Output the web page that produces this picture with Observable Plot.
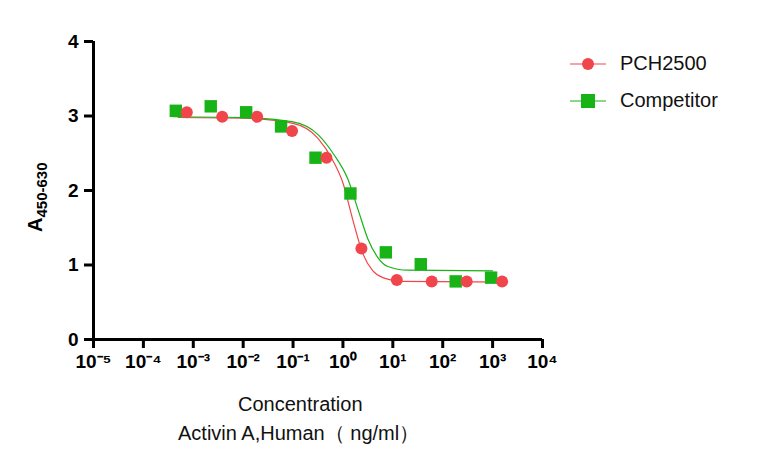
<!DOCTYPE html>
<html><head><meta charset="utf-8">
<script src="https://cdn.jsdelivr.net/npm/d3@7"></script>
<script src="https://cdn.jsdelivr.net/npm/@observablehq/plot@0.6"></script>
<style>body{margin:0;background:#fff;font-family:Arial,"Liberation Sans",sans-serif}#c{position:relative;width:765px;height:469px}
.lg{position:absolute;font-size:20px;color:#111}</style>
</head><body><div id="c"></div>
<script>
const redLogX=[-3.13,-2.42,-1.72,-1.02,-0.33,0.37,1.08,1.78,2.48,3.19];
const redY=[3.05,2.99,2.99,2.80,2.44,1.22,0.80,0.78,0.78,0.78];
const greenLogX=[-3.35,-2.65,-1.94,-1.24,-0.55,0.15,0.86,1.56,2.26,2.97];
const greenY=[3.07,3.13,3.05,2.86,2.44,1.96,1.17,1.01,0.78,0.83];
const redCurveX=[-3.3,-2,-1,-0.5,-0.2,0,0.2,0.4,0.6,0.8,1.2,3.3];
const redCurveY=[2.98,2.97,2.9,2.7,2.4,2.1,1.6,1.15,0.92,0.83,0.78,0.77];
const greenCurveX=[-3.4,-2,-1,-0.5,-0.2,0.1,0.3,0.5,0.7,0.9,1.3,3.0];
const greenCurveY=[2.99,2.98,2.92,2.75,2.5,2.15,1.75,1.35,1.1,0.98,0.93,0.92];
const xTicks=[-5,-4,-3,-2,-1,0,1,2,3,4];
const xTickLabels=["10⁻⁵","10⁻⁴","10⁻³","10⁻²","10⁻¹","10⁰","10¹","10²","10³","10⁴"];
const yTicks=[0,1,2,3,4];
const RED="#f0464b",GREEN="#17b317";
const z=(a,b)=>a.map((v,i)=>({x:v,y:b[i]}));
const p=Plot.plot({width:765,height:469,marginLeft:93,marginRight:223,marginTop:41,marginBottom:130,
 style:{fontFamily:"Arial, Liberation Sans, sans-serif",color:"#000"},
 x:{type:"linear",domain:[-5,4]},y:{type:"linear",domain:[0,4]},
 marks:[
  Plot.axisX({ticks:xTicks,tickFormat:d=>xTickLabels[xTicks.indexOf(d)],tickSize:9,strokeWidth:3,fontSize:19,fontWeight:"bold",label:null,tickPadding:6}),
  Plot.axisY({ticks:yTicks,tickFormat:d=>String(d),tickSize:9,strokeWidth:3,fontSize:19,fontWeight:"bold",label:null,tickPadding:6}),
  Plot.line(z(redCurveX,redCurveY),{x:"x",y:"y",stroke:RED,strokeWidth:1.2,curve:"monotone-x"}),
  Plot.line(z(greenCurveX,greenCurveY),{x:"x",y:"y",stroke:GREEN,strokeWidth:1.2,curve:"monotone-x"}),
  Plot.dot(z(greenLogX,greenY),{x:"x",y:"y",symbol:"square",r:7,fill:GREEN}),
  Plot.dot(z(redLogX,redY),{x:"x",y:"y",r:6,fill:RED}),
  Plot.ruleY([0],{stroke:"#000",strokeWidth:3}),
  Plot.ruleX([-5],{stroke:"#000",strokeWidth:3})
 ]});
const c=document.getElementById("c");c.appendChild(p);
c.insertAdjacentHTML("beforeend",`
<div class="lg" style="left:238px;top:393px">Concentration</div>
<div class="lg" style="left:178px;top:420px">Activin A,Human（ ng/ml）</div>
<div style="position:absolute;left:24px;top:232px;transform:rotate(-90deg);transform-origin:left top;font-size:20px;font-weight:bold;white-space:nowrap">A<sub style="font-size:15px">450-630</sub></div>
<svg style="position:absolute;left:568px;top:52px" width="40" height="60"><line x1="2" x2="38" y1="12" y2="12" stroke="${RED}" stroke-width="1.2"/><circle cx="20" cy="12" r="6" fill="${RED}"/>
<line x1="2" x2="38" y1="49" y2="49" stroke="${GREEN}" stroke-width="1.2"/><rect x="13" y="42" width="14" height="14" fill="${GREEN}"/></svg>
<div class="lg" style="left:620px;top:52px">PCH2500</div>
<div class="lg" style="left:620px;top:89px">Competitor</div>`);
</script></body></html>
